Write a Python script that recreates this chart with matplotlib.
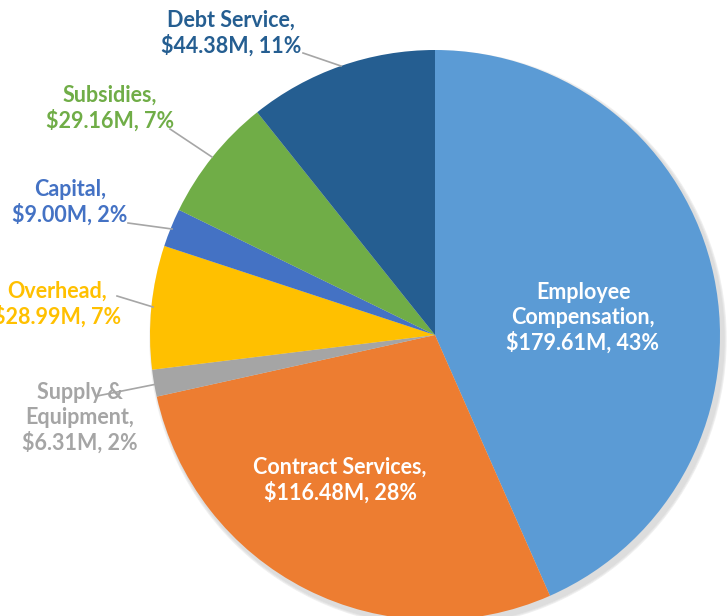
import matplotlib.pyplot as plt

# data
labels = ['Employee Compensation', 'Contract Services', 'Supply & Equipment',
          'Overhead', 'Capital', 'Subsidies', 'Debt Service']
values = [179.61, 116.48, 6.31, 28.99, 9.00, 29.16, 44.38]
pcts = ['43%', '28%', '2%', '7%', '2%', '7%', '11%']
colors = ['#5B9BD5', '#ED7D31', '#A5A5A5', '#FFC000', '#4472C4', '#70AD47', '#255E91']

label_text = [
    'Employee\nCompensation,\n$179.61M, 43%',
    'Contract Services,\n$116.48M, 28%',
    'Supply &\nEquipment,\n$6.31M, 2%',
    'Overhead,\n$28.99M, 7%',
    'Capital,\n$9.00M, 2%',
    'Subsidies,\n$29.16M, 7%',
    'Debt Service,\n$44.38M, 11%',
]

W, H = 727, 616
fig = plt.figure(figsize=(W / 100, H / 100), dpi=100)
ax = fig.add_axes([0, 0, 1, 1])

cx, cy, r = 435, H - 335, 285

# soft shadow
for k, c in enumerate(['#f0f0f0', '#e6e6e6', '#dddddd']):
    ax.add_patch(plt.Circle((cx + 3, cy - 4), r + 3 - k, color=c, zorder=0))

ax.pie(values, colors=colors, startangle=90, counterclock=False,
       center=(cx, cy), radius=r, frame=True,
       wedgeprops=dict(linewidth=0))
ax.set_xlim(0, W)
ax.set_ylim(0, H)
ax.set_aspect('equal')
ax.axis('off')

fnt = dict(family=['Lato', 'DejaVu Sans'], fontweight='bold', fontsize=15.5,
           linespacing=1.2)

# label position (pixel, top-left origin), leader line
pos = {
    0: (583, 318, None),
    1: (340, 480, None),
    2: (80, 418, [(97, 396), (157, 384)]),
    3: (57, 304, [(117, 296), (153, 307)]),
    4: (70, 202, [(128, 223), (172, 229)]),
    5: (110, 108, [(170, 129), (212, 157)]),
    6: (231, 33, [(303, 53), (341, 66)]),
}

for i, txt in enumerate(label_text):
    x, y, line = pos[i]
    col = 'white' if line is None else colors[i]
    ax.text(x, H - y, txt, color=col, ha='center', va='center', **fnt)
    if line:
        xs = [p[0] for p in line]
        ys = [H - p[1] for p in line]
        ax.plot(xs, ys, color='#a6a6a6', lw=1.2)

fig.savefig('out.png', dpi=100)
